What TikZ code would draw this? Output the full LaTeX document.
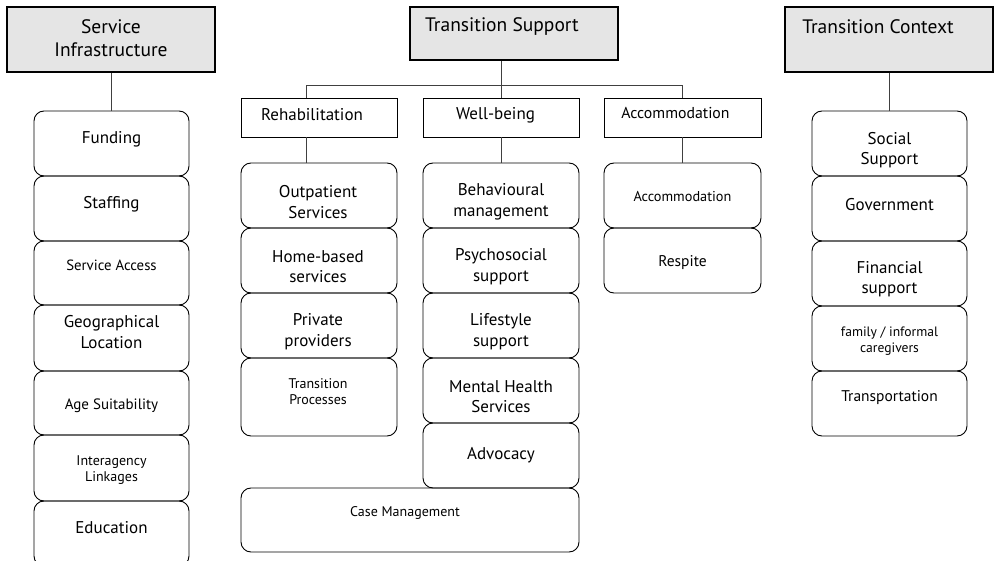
\documentclass[tikz,border=0pt]{standalone}
\usepackage{fontspec}
\setmainfont{PT Sans}
\tikzset{
 rbox/.style={draw=black, line width=0.9pt, rounded corners=10pt, inner sep=0pt},
 hbox/.style={draw=black, line width=1.6pt, fill=black!10, inner sep=0pt},
 sbox/.style={draw=black, line width=0.9pt, inner sep=0pt},
 conn/.style={draw=black!75, line width=0.9pt},
 big/.style={font=\fontsize{17}{20.5}\selectfont, align=center, inner sep=0pt},
 small/.style={font=\fontsize{14}{16}\selectfont, align=center, inner sep=0pt},
 head/.style={font=\fontsize{19.5}{23}\selectfont, align=center, inner sep=0pt},
 fs/.style={font=\fontsize{#1}{16}\selectfont},
}
\newcommand\bx[6][rbox]{\node[#1, minimum width={#5-#3}, minimum height={#6-#4}] (#2) at ({(#3+#5)/2},{(#4+#6)/2}) {};}
\begin{document}
\begin{tikzpicture}[x=1pt,y=-1pt]
\useasboundingbox (0,0) rectangle (994,561);
% headers
\bx[hbox]{si}{7}{7}{215}{72}
\bx[hbox]{ts}{410}{7}{618}{60}
\bx[hbox]{tc}{785}{7}{993}{72}
\node[head] (t-si) at (111,38.5) {Service\\Infrastructure};
\node[head] (t-ts) at (502,27) {Transition Support};
\node[head] (t-tc) at (878,27) {Transition Context};
% left column
\bx{fund}{34}{111}{189}{176}
\bx{staff}{34}{176}{189}{241}
\bx{sacc}{34}{241}{189}{305}
\bx{geo}{34}{305}{189}{371}
\bx{age}{34}{371}{189}{435}
\bx{inter}{34}{435}{189}{501}
\bx{edu}{34}{501}{189}{566}
\node[big] (t-fund) at (111.5,139) {Funding};
\node[big] (t-staff) at (111.5,204) {Staffing};
\node[small, fs=14.8] (t-sacc) at (111.5,265) {Service Access};
\node[big] (t-geo) at (111.5,332) {Geographical\\Location};
\node[small, fs=15] (t-age) at (111.5,406) {Age Suitability};
\node[small] (t-inter) at (111.5,470.5) {Interagency\\Linkages};
\node[big] (t-edu) at (111.5,528) {Education};
% sub headers
\bx[sbox]{rehab}{241}{98}{397}{137}
\bx[sbox]{wb}{423}{98}{579}{137}
\bx[sbox]{acch}{604}{98}{761}{137}
\node[big] (t-rehab) at (312,115) {Rehabilitation};
\node[big] (t-wb) at (495.5,115) {Well-being};
\node[small, fs=15.8] (t-acch) at (675.5,113) {Accommodation};
% rehabilitation column
\bx{outp}{241}{163}{397}{228}
\bx{home}{241}{228}{397}{293}
\bx{priv}{241}{293}{397}{358}
\bx{trp}{241}{358}{397}{436}
\node[big] (t-outp) at (318,202) {Outpatient\\Services};
\node[big] (t-home) at (318,266.5) {Home-based\\services};
\node[big] (t-priv) at (318,331.5) {Private\\providers};
\node[small] (t-trp) at (318,392) {Transition\\Processes};
% well-being column
\bx{beh}{423}{163}{579}{228}
\bx{psy}{423}{228}{579}{293}
\bx{life}{423}{293}{579}{358}
\bx{mhs}{423}{358}{579}{423}
\bx{adv}{423}{423}{579}{488}
\node[big] (t-beh) at (501,202) {Behavioural\\management};
\node[big] (t-psy) at (501,266.5) {Psychosocial\\support};
\node[big] (t-life) at (501,331.5) {Lifestyle\\support};
\node[big] (t-mhs) at (501,396.5) {Mental Health\\Services};
\node[big] (t-adv) at (501,455) {Advocacy};
\bx{cm}{241}{488}{579}{552}
\node[small] (t-cm) at (405,513) {Case Management};
% accommodation column
\bx{accm}{604}{163}{761}{228}
\bx{resp}{604}{228}{761}{293}
\node[small, fs=14.3] (t-accm) at (682.5,197) {Accommodation};
\node[small, fs=15.5] (t-resp) at (682.5,263) {Respite};
% right column
\bx{soc}{812}{111}{967}{176}
\bx{gov}{812}{176}{967}{241}
\bx{fin}{812}{241}{967}{306}
\bx{fam}{812}{306}{967}{371}
\bx{trans}{812}{371}{967}{436}
\node[big] (t-soc) at (889.5,150) {Social\\Support};
\node[big] (t-gov) at (889.5,205) {Government};
\node[big] (t-fin) at (889.5,279) {Financial\\support};
\node[small, fs=13.6] (t-fam) at (889.5,341) {family / informal\\caregivers};
\node[small, fs=15.5] (t-trans) at (889.5,398) {Transportation};
% connectors
\coordinate (bus) at (306,85);
\draw[conn] (si.south) -- (si.south |- fund.north);
\draw[conn] (tc.south) -- (tc.south |- soc.north);
\draw[conn] (ts.south -| wb.north) -- (wb.north);
\draw[conn] (rehab.north -| bus) -- (bus) -- (bus -| acch.north) -- (acch.north);
\draw[conn] (rehab.south -| bus) -- (outp.north -| bus);
\draw[conn] (wb.south) -- (beh.north);
\draw[conn] (acch.south) -- (accm.north);
\end{tikzpicture}
\end{document}
